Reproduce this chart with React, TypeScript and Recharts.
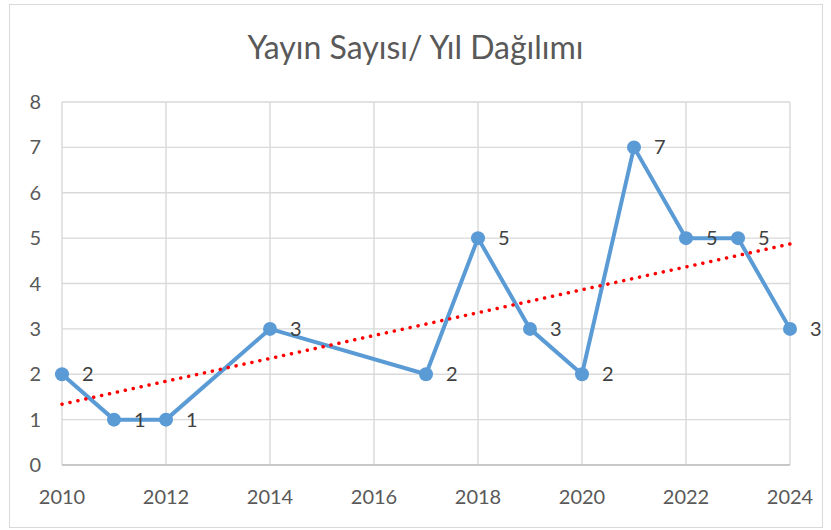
import { LineChart, Line, XAxis, YAxis, CartesianGrid, LabelList } from 'recharts';

const years = [2010, 2011, 2012, 2014, 2017, 2018, 2019, 2020, 2021, 2022, 2023, 2024];
const counts = [2, 1, 1, 3, 2, 5, 3, 2, 7, 5, 5, 3];

// linear trend line endpoints
const trendYears = [2010, 2024];
const trendValues = [1.34, 4.87];

const xTicks = [2010, 2012, 2014, 2016, 2018, 2020, 2022, 2024];
const yTicks = [0, 1, 2, 3, 4, 5, 6, 7, 8];

const data = years.map((year, i) => ({ year, count: counts[i] }));
const trend = trendYears.map((year, i) => ({ year, trend: trendValues[i] }));

const FONT = 'Lato, "Open Sans", sans-serif';

export default function App() {
  return (
    <div style={{ position: 'absolute', left: 0, top: 0, width: 831, height: 530, background: '#fff', fontFamily: FONT }}>
      <div
        style={{
          position: 'absolute',
          left: 9,
          top: 4,
          width: 812,
          height: 522,
          border: '1px solid #d9d9d9',
        }}
      />
      <div
        style={{
          position: 'absolute',
          left: 0,
          top: 27,
          width: 831,
          textAlign: 'center',
          fontSize: 32,
          color: '#595959',
          lineHeight: '40px',
        }}
      >
        Yayın Sayısı/ Yıl Dağılımı
      </div>
      <div style={{ position: 'absolute', left: 0, top: 0 }}>
        <LineChart width={831} height={530} margin={{ top: 102, right: 41, bottom: 35, left: 22 }}>
          <CartesianGrid stroke="#d9d9d9" strokeWidth={1.4} />
          <XAxis
            type="number"
            dataKey="year"
            domain={[2010, 2024]}
            ticks={xTicks}
            allowDuplicatedCategory={false}
            height={30}
            tickLine={false}
            axisLine={{ stroke: '#bfbfbf', strokeWidth: 1.4 }}
            tickMargin={19}
            tick={{ fill: '#595959', fontSize: 20, fontFamily: FONT }}
          />
          <YAxis
            type="number"
            domain={[0, 8]}
            ticks={yTicks}
            width={40}
            tickLine={false}
            axisLine={false}
            tickMargin={15}
            tick={{ fill: '#595959', fontSize: 20, fontFamily: FONT }}
          />
          <Line
            data={data}
            dataKey="count"
            type="linear"
            stroke="#5b9bd5"
            strokeWidth={4}
            dot={{ r: 7, fill: '#5b9bd5', stroke: 'none' }}
            activeDot={false}
            isAnimationActive={false}
          >
            <LabelList
              dataKey="count"
              position="right"
              offset={20}
              fill="#404040"
              fontSize={20}
              fontFamily={FONT}
            />
          </Line>
          <Line
            data={trend}
            dataKey="trend"
            type="linear"
            stroke="#ff0000"
            strokeWidth={3.5}
            strokeDasharray="0.1 8"
            strokeLinecap="round"
            dot={false}
            activeDot={false}
            isAnimationActive={false}
          />
        </LineChart>
      </div>
    </div>
  );
}
